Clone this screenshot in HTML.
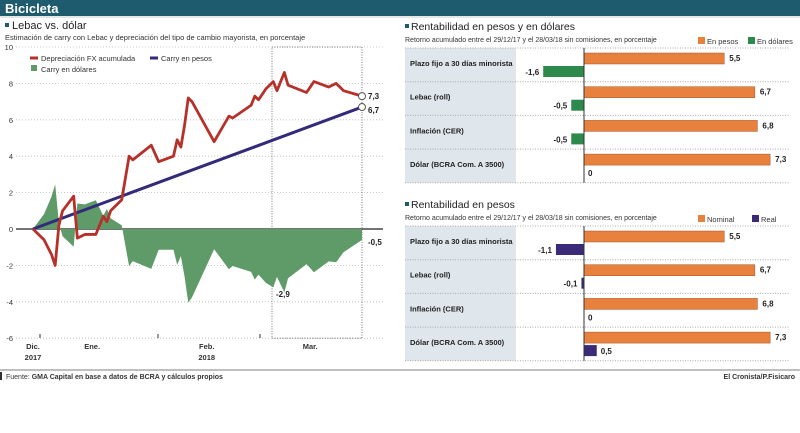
<!DOCTYPE html>
<html><head><meta charset="utf-8"><style>
body{margin:0;background:#fff;font-family:"Liberation Sans",sans-serif}
svg text{font-family:"Liberation Sans",sans-serif}
</style></head><body>
<svg id="s" width="800" height="428" viewBox="0 0 800 428" xmlns="http://www.w3.org/2000/svg">
<rect x="0" y="0" width="800" height="16" fill="#1f5b6f"/>
<text x="5" y="13" font-size="13" font-weight="bold" fill="#fff">Bicicleta</text>
<line x1="0" y1="17" x2="800" y2="17" stroke="#ccc"/>
<rect x="5" y="23" width="4" height="4" fill="#1f5b6f"/>
<text x="12" y="29" font-size="11" fill="#222">Lebac vs. dólar</text>
<text x="5" y="40" font-size="7.5" fill="#333">Estimación de carry con Lebac y depreciación del tipo de cambio mayorista, en porcentaje</text>
<g id="left"></g>
<g id="right1"></g>
<g id="right2"></g>
<line x1="0" y1="370" x2="800" y2="370" stroke="#aaa" stroke-width="1.5"/>
<rect x="0" y="372" width="2" height="8" fill="#333"/>
<text x="6" y="379" font-size="7" fill="#333">Fuente: <tspan font-weight="bold">GMA Capital en base a datos de BCRA y cálculos propios</tspan></text>
<text x="795" y="379" font-size="7" font-weight="bold" fill="#333" text-anchor="end">El Cronista/P.Fisicaro</text>
</svg>
<script>
// Left chart data
const days = [0,3,5,6,7,8,11,12,14,17,19,20,21,24,26,27,32,34,38,39,40,41,42,43,49,51,53,54,59,60,61,63,65,66,68,69,74,76,80,82,84,89];
const fxDepreciation = [0,-0.6,-1.4,-2,0.2,1,1.8,-0.5,-0.3,-0.3,0.7,0.4,1.0,1.6,4,3.8,4.6,3.7,4,4.9,4.5,5.7,7.2,7.0,4.8,5.5,6.2,6.1,6.8,7.3,7.1,7.7,8.1,7.6,8.6,7.9,7.5,8.1,7.8,8.0,7.6,7.3];
const carryEnd = 6.7;
const yTicks = [10,8,6,4,2,0,-2,-4,-6];
const monthLabels = ["Dic.","Ene.","Feb.","Mar."];
const monthDays = [0,16,47,75];
const ns="http://www.w3.org/2000/svg";
function mk(p,t,a){const e=document.createElementNS(ns,t);for(const k in a)e.setAttribute(k,a[k]);p.appendChild(e);return e;}
const L=document.getElementById('left');
const X=d=>33+d*(329/89), Y=v=>229-v*18.2;
yTicks.forEach(v=>{
  const g=mk(L,'line',{x1:16,x2:383,y1:Y(v),y2:Y(v),stroke:v===0?'#222':'#bbb','stroke-dasharray':v===0?'':'1,2','stroke-width':v===0?1.2:0.8});
  
  
  const t=mk(L,'text',{x:13,y:Y(v)+3,'font-size':7.5,'text-anchor':'end',fill:'#333'});t.textContent=v;
  
  
});
const box=mk(L,'rect',{x:272,y:Y(10),width:90,height:Y(-6)-Y(10),fill:'none',stroke:'#555','stroke-dasharray':'1,1.5','stroke-width':0.8});


const carry=days.map(d=>carryEnd*d/89);
const usd=days.map((d,i)=>carry[i]-fxDepreciation[i]);
let pa='M'+X(0)+','+Y(0);days.forEach((d,i)=>pa+=' L'+X(d)+','+Y(usd[i]));pa+=' L'+X(89)+','+Y(0)+'Z';
const area=mk(L,'path',{d:pa,fill:'#5f9b68'});


const cl=mk(L,'line',{x1:X(0),y1:Y(0),x2:X(89),y2:Y(carryEnd),stroke:'#332a7c','stroke-width':3});


const fl=mk(L,'polyline',{points:days.map((d,i)=>X(d)+','+Y(fxDepreciation[i])).join(' '),fill:'none',stroke:'#b5312a','stroke-width':2.8,'stroke-linejoin':'round'});


[[fxDepreciation[fxDepreciation.length-1],'7,3',0],[carryEnd,'6,7',3]].forEach(([v,s,o])=>{
  const c=mk(L,'circle',{cx:X(89),cy:Y(v),r:3.5,fill:'#fff',stroke:'#555'});
  
  
  const t=mk(L,'text',{x:X(89)+6,y:Y(v)+3+o,'font-size':8,'font-weight':'bold',fill:'#222'});t.textContent=s;
  
  
});
[['-0,5',368,245],['-2,9',276,297]].forEach(([s,x,y])=>{const t=mk(L,'text',{x,y,'font-size':8,'font-weight':'bold',fill:'#222'});t.textContent=s;
  
  });
monthLabels.forEach((m,i)=>{
  const x=X(monthDays[i]);
  const t=mk(L,'text',{x:x,y:349,'font-size':7.5,'font-weight':'bold','text-anchor':'middle',fill:'#333'});t.textContent=m;
  
  
});
[['2017',X(0)],['2018',X(47)]].forEach(([s,x])=>{const t=mk(L,'text',{x,y:360,'font-size':7.5,'font-weight':'bold','text-anchor':'middle',fill:'#333'});t.textContent=s;
  
  });
[40,158,260].forEach(x=>{const l=mk(L,'line',{x1:x,x2:x,y1:334,y2:338,stroke:'#333'});
  
  });
// legend
[['#b5312a','Depreciación FX acumulada',30,61,'line'],['#332a7c','Carry en pesos',150,61,'line'],['#5f9b68','Carry en dólares',30,72,'sq']].forEach(([c,s,x,y,k])=>{
  if(k==='line'){const l=mk(L,'line',{x1:x,x2:x+8,y1:y-3,y2:y-3,stroke:c,'stroke-width':3});}
  else{const r=mk(L,'rect',{x:x+1,y:y-7,width:6,height:6,fill:c});}
  const t=mk(L,'text',{x:x+11,y,'font-size':7.5,fill:'#333'});t.textContent=s;
  
  
});

// Right charts data
const categories=["Plazo fijo a 30 días minorista","Lebac (roll)","Inflación (CER)","Dólar (BCRA Com. A 3500)"];
const pesos=[5.5,6.7,6.8,7.3];
const dolares=[-1.6,-0.5,-0.5,0];
const nominal=[5.5,6.7,6.8,7.3];
const real=[-1.1,-0.1,0,0.5];
function barChart(G,top,title,s1,s2,n1,n2,c2){
  const X0=584,k=25.5,rh=33.7;
  let e=mk(G,'rect',{x:405,y:top-24,width:4,height:4,fill:'#1f5b6f'});
  e=mk(G,'text',{x:411,y:top-18,'font-size':10.5,fill:'#222'});e.textContent=title;
  e=mk(G,'text',{x:405,y:top-6,'font-size':7,fill:'#333'});e.textContent="Retorno acumulado entre el 29/12/17 y el 28/03/18 sin comisiones, en porcentaje";
  [[ '#e8803e',n1,698],[c2,n2,n2==='Real'?752:748]].forEach(([c,s,x],i)=>{
    const r=mk(G,'rect',{x,y:top-11,width:7,height:7,fill:c});
    const t=mk(G,'text',{x:x+9,y:top-4,'font-size':7.5,fill:'#333'});t.textContent=s;
  });
  e=mk(G,'rect',{x:405,y:top,width:111,height:rh*4,fill:'#dfe6ec'});
  for(let i=0;i<=4;i++){const l=mk(G,'line',{x1:405,x2:790,y1:top+i*rh,y2:top+i*rh,stroke:'#aaa','stroke-dasharray':'1,1.5'});}
  categories.forEach((c,i)=>{
    const y=top+i*rh;
    const t=mk(G,'text',{x:410,y:y+18,'font-size':7.5,'font-weight':'bold',fill:'#222'});t.textContent=c;
    const v1=s1[i],v2=s2[i];
    const b1=mk(G,'rect',{x:X0,y:y+5,width:v1*k,height:11,fill:'#e8803e',stroke:'#a0552a','stroke-width':0.5});
    let t1=mk(G,'text',{x:X0+v1*k+5,y:y+13,'font-size':8,'font-weight':'bold',fill:'#222'});t1.textContent=String(v1).replace('.',',');
    const w=Math.abs(v2)*k;
    if(w>0){const b2=mk(G,'rect',{x:v2<0?X0-w:X0,y:y+18,width:w,height:11,fill:c2});}
    const lx=v2<0?X0-w-4:X0+w+4;
    const t2=mk(G,'text',{x:lx,y:y+27,'font-size':8,'font-weight':'bold',fill:'#222','text-anchor':v2<0?'end':'start'});t2.textContent=String(v2).replace('.',',');
  });
  e=mk(G,'line',{x1:X0,x2:X0,y1:top,y2:top+rh*4,stroke:'#333'});
}
barChart(document.getElementById('right1'),48,"Rentabilidad en pesos y en dólares",pesos,dolares,"En pesos","En dólares","#2e8a4c");
barChart(document.getElementById('right2'),226,"Rentabilidad en pesos",nominal,real,"Nominal","Real","#3b2a78");
</script>
</body></html>
